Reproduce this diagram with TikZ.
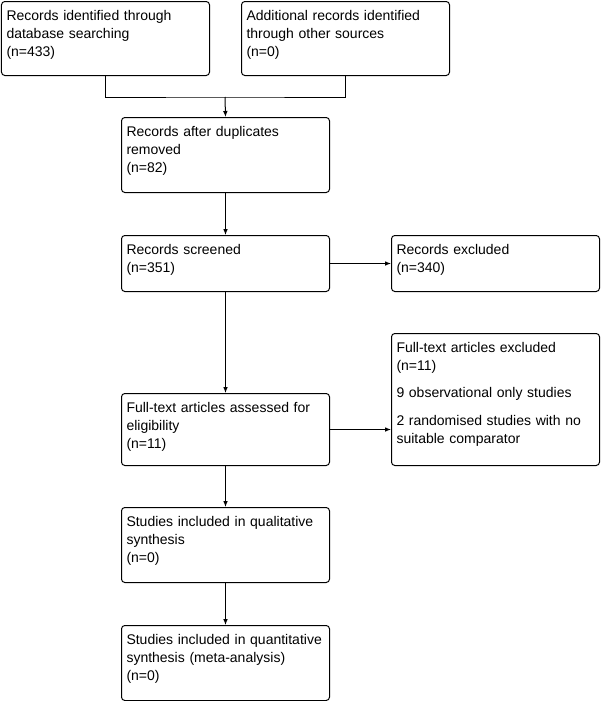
\documentclass[tikz,border=0pt]{standalone}
\usepackage{fontspec}
\setmainfont{Liberation Sans}
\usetikzlibrary{arrows.meta,positioning}

\begin{document}
\begin{tikzpicture}[
    x=0.75pt, y=-0.75pt,
    box/.style={draw, rounded corners=2.5pt, anchor=north west, line width=0.75pt,
                text width=148.5pt, inner xsep=3.75pt, inner ysep=0pt, align=left,
                text height=14.25pt, font=\fontsize{10.5}{13.5}\selectfont},
    arrow/.style={-{Latex[length=4.5pt,width=3.5pt]}, line width=0.75pt},
    link/.style={line width=0.75pt}
]
\useasboundingbox (0,0) rectangle (602,701);

% --- identification ---
\node[box, text depth=41.25pt] (ident) at (1,1)
  {Records identified through\\ database searching\\ (n=433)};
\node[box, text depth=41.25pt] (other) at (241,1)
  {Additional records identified\\ through other sources\\ (n=0)};

% --- screening ---
\node[box, text depth=42pt]    (dedup) at (121,117)
  {Records after duplicates\\ removed\\ (n=82)};
\node[box, text depth=27.75pt] (screen) at (121,235)
  {Records screened\\ (n=351)};
\node[box, text depth=27.75pt] (rexcl) at (391,235)
  {Records excluded\\ (n=340)};

% --- eligibility ---
\node[box, text depth=39.75pt] (assess) at (121,393)
  {Full-text articles assessed for\\ eligibility\\ (n=11)};
\node[box, text depth=84.75pt] (fexcl) at (391,333)
  {Full-text articles excluded\\ (n=11)\\[7pt]
   9 observational only studies\\[7pt]
   2 randomised studies with no\\ suitable comparator};

% --- included ---
\node[box, text depth=42pt]    (qual) at (121,507)
  {Studies included in qualitative\\ synthesis\\ (n=0)};
\node[box, text depth=42pt]    (quant) at (121,625)
  {Studies included in quantitative\\ synthesis (meta-analysis)\\ (n=0)};

% --- arrows ---
\coordinate (join) at (225,97);
\draw[link] (ident.south) |- (join) -| (other.south);
\draw[arrow] (join) -- (dedup.north);
\draw[arrow] (dedup.south) -- (screen.north);
\draw[arrow] (screen.east) -- (rexcl.west);
\draw[arrow] (screen.south) -- (assess.north);
\draw[arrow] (assess.east) -- (assess.east -| fexcl.west);
\draw[arrow] (assess.south) -- (qual.north);
\draw[arrow] (qual.south) -- (quant.north);

\end{tikzpicture}
\end{document}
